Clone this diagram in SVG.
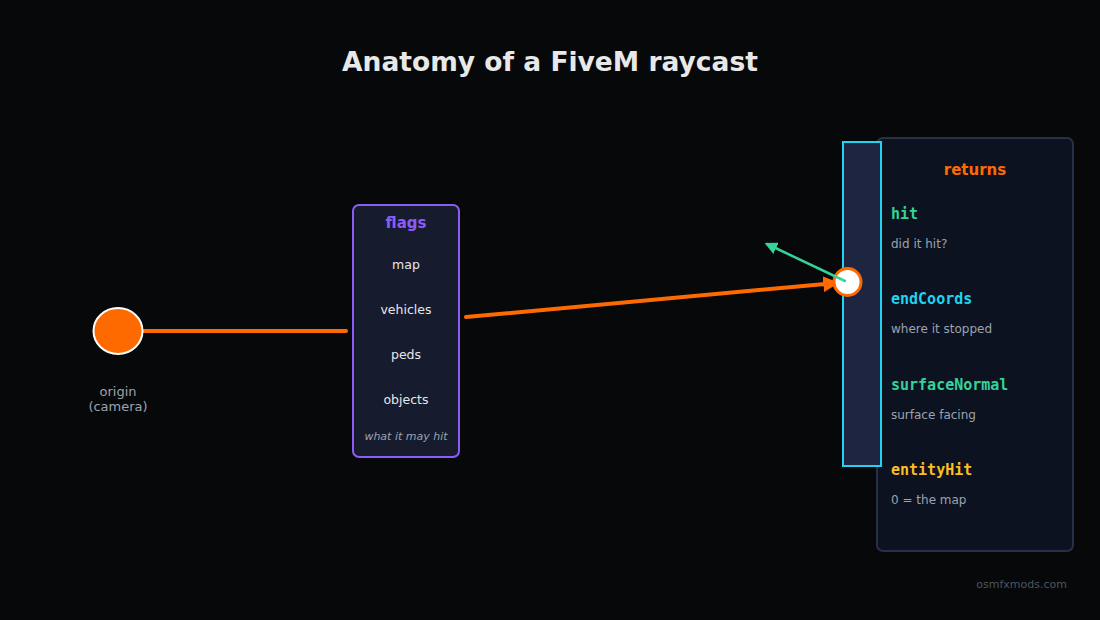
<svg xmlns="http://www.w3.org/2000/svg" width="1100" height="620" viewBox="0 0 1100 620">
<defs>
<style>
.sans{font-family:"DejaVu Sans","Noto Sans",sans-serif;}
.mono{font-family:"DejaVu Sans Mono","Liberation Mono",monospace;font-weight:bold;font-size:15px;}
.item{fill:#e5e7eb;font-size:12.5px;text-anchor:middle;}
.desc{fill:#9ca3af;font-size:12px;}
</style>
<marker id="arrO" viewBox="0 0 10 10" refX="8" refY="5" markerWidth="4" markerHeight="4" orient="auto" markerUnits="strokeWidth"><path d="M0,0 L10,5 L0,10 z" fill="#ff6a00"/></marker>
<marker id="arrG" viewBox="0 0 10 10" refX="8" refY="5" markerWidth="5" markerHeight="5" orient="auto" markerUnits="strokeWidth"><path d="M0,0 L10,5 L0,10 z" fill="#34d399"/></marker>
</defs>
<rect width="1100" height="620" fill="#07080a"/>
<text x="550" y="71" class="sans" font-size="26.5" font-weight="bold" fill="#e8e8e8" text-anchor="middle">Anatomy of a FiveM raycast</text>

<g id="returns">
<rect x="877" y="138" width="196" height="413" rx="6" fill="#0c1220" stroke="#273046" stroke-width="2"/>
<text x="975" y="175" class="sans" font-size="15" font-weight="bold" fill="#ff6a00" text-anchor="middle">returns</text>
<text x="891" y="219" class="mono" fill="#34d399">hit</text>
<text x="891" y="248" class="sans desc">did it hit?</text>
<text x="891" y="304" class="mono" fill="#22d3ee">endCoords</text>
<text x="891" y="333" class="sans desc">where it stopped</text>
<text x="891" y="390" class="mono" fill="#34d399">surfaceNormal</text>
<text x="891" y="419" class="sans desc">surface facing</text>
<text x="891" y="475" class="mono" fill="#fbbf24">entityHit</text>
<text x="891" y="504" class="sans desc">0 = the map</text>
</g>

<g id="wall">
<rect x="843" y="142" width="38" height="324" fill="#1e2540" stroke="#22d3ee" stroke-width="2"/>
</g>

<g id="flags">
<rect x="353" y="205" width="106" height="252" rx="6" fill="#161b2e" stroke="#8b5cf6" stroke-width="2"/>
<text x="406" y="228" class="sans" font-size="15" font-weight="bold" fill="#8b5cf6" text-anchor="middle">flags</text>
<text x="406" y="269" class="sans item">map</text>
<text x="406" y="314" class="sans item">vehicles</text>
<text x="406" y="359" class="sans item">peds</text>
<text x="406" y="404" class="sans item">objects</text>
<text x="406" y="440" class="sans" font-size="11" font-style="italic" fill="#9ca3af" text-anchor="middle">what it may hit</text>
</g>

<g id="connectors" fill="none" stroke-linecap="round">
<line x1="143" y1="331" x2="346" y2="331" stroke="#ff6a00" stroke-width="4"/>
<line x1="466" y1="317" x2="836" y2="283" stroke="#ff6a00" stroke-width="4" marker-end="url(#arrO)"/>
</g>

<g id="origin">
<ellipse cx="118" cy="331" rx="24.5" ry="23" fill="#ff6a00" stroke="#ffffff" stroke-width="2"/>
<text x="118" y="396" class="sans" font-size="13" fill="#9ca3af" text-anchor="middle">origin</text>
<text x="118" y="411" class="sans" font-size="13" fill="#9ca3af" text-anchor="middle">(camera)</text>
</g>

<g id="hit">
<circle cx="847.5" cy="282" r="13.5" fill="#ffffff" stroke="#ff6a00" stroke-width="3"/>
</g>

<g id="normal">
<line x1="845" y1="281" x2="767" y2="244" stroke="#34d399" stroke-width="2.5" stroke-linecap="round" marker-end="url(#arrG)"/>
</g>

<text x="1067" y="588" class="sans" font-size="11" fill="#4b5563" text-anchor="end">osmfxmods.com</text>
</svg>
